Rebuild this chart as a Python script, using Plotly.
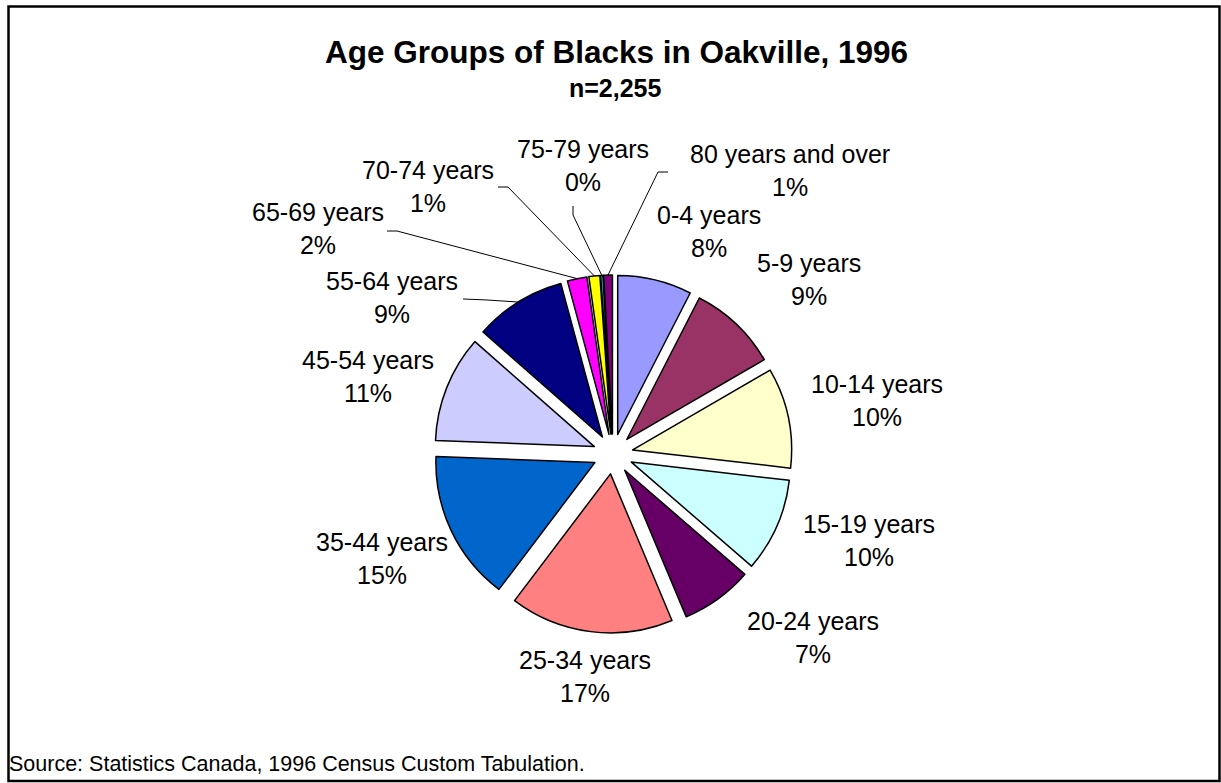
import math
import plotly.graph_objects as go

# ---------------- data ----------------
age_groups = ["0-4 years", "5-9 years", "10-14 years", "15-19 years", "20-24 years",
              "25-34 years", "35-44 years", "45-54 years", "55-64 years", "65-69 years",
              "70-74 years", "75-79 years", "80 years and over"]
counts = [170, 205, 230, 215, 165, 375, 345, 245, 210, 45, 25, 5, 20]
colors = ["#9999FF", "#993366", "#FFFFCC", "#CCFFFF", "#660066", "#FF8080", "#0066CC",
          "#CCCCFF", "#000080", "#FF00FF", "#FFFF00", "#00FFFF", "#800080"]
title_text = "Age Groups of Blacks in Oakville, 1996"
subtitle_text = "n=2,255"
source_text = "Source: Statistics Canada, 1996 Census Custom Tabulation."

# ---------------- layout constants (pixels) ----------------
W, H = 1221, 783
CX, CY = 613, 454          # pie centre
R = 159                    # pie radius
PULL = 0.126               # explosion (fraction of radius)
FONT = "Liberation Sans, Arial, sans-serif"

# label block centres, in pixels
label_pos = [(709, 231), (809, 279), (877, 400), (869, 540), (813, 637),
             (585, 676), (382, 558), (368, 377), (392, 297), (318, 229),
             (428, 186), (583, 166), (790, 170)]
# leader lines: label-side points (pixels); the slice end is computed from the data
leader_pts = {8: [(463, 299), (487, 300)],
              9: [(387, 231), (397, 231)],
              10: [(498, 187), (508, 187)],
              11: [(573, 206), (573, 215)],
              12: [(668, 172), (658, 172)]}


def px(x):
    return x / W


def py(y):
    return 1 - y / H


total = sum(counts)
pcts = [round(c / total * 100) for c in counts]

half = R * (1 + PULL)
fig = go.Figure(go.Pie(
    labels=age_groups, values=counts, sort=False, direction="clockwise", rotation=0,
    pull=[PULL] * len(counts),
    marker=dict(colors=colors, line=dict(color="black", width=1.5)),
    textinfo="none", hoverinfo="label+percent", showlegend=False,
    domain=dict(x=[px(CX - half), px(CX + half)], y=[py(CY + half), py(CY - half)]),
))

annotations = []
for i, (lab, p) in enumerate(zip(age_groups, pcts)):
    x, y = label_pos[i]
    annotations.append(dict(
        x=px(x), y=py(y), xref="paper", yref="paper", showarrow=False,
        text=f"{lab}<br>{p}%", align="center", xanchor="center", yanchor="middle",
        font=dict(family=FONT, size=25, color="black")))

annotations.append(dict(x=px(616), y=py(52), xref="paper", yref="paper", showarrow=False,
                        text=f"<b>{title_text}</b>", xanchor="center", yanchor="middle",
                        font=dict(family=FONT, size=31.5, color="black")))
annotations.append(dict(x=px(615), y=py(88), xref="paper", yref="paper", showarrow=False,
                        text=f"<b>{subtitle_text}</b>", xanchor="center", yanchor="middle",
                        font=dict(family=FONT, size=25, color="black")))
annotations.append(dict(x=px(7), y=py(764), xref="paper", yref="paper", showarrow=False,
                        text=source_text, xanchor="left", yanchor="middle",
                        font=dict(family=FONT, size=21.5, color="black")))

# cumulative angles -> leader end on slice outer arc
shapes = []
cum = 0
mids = []
for c in counts:
    a0 = cum / total * 360
    cum += c
    a1 = cum / total * 360
    mids.append((a0 + a1) / 2)
for i, pts in leader_pts.items():
    th = math.radians(mids[i])
    ex = CX + R * (1 + PULL) * math.sin(th)
    ey = CY - R * (1 + PULL) * math.cos(th)
    allp = pts + [(ex, ey)]
    path = "M " + " L ".join(f"{px(x):.5f},{py(y):.5f}" for x, y in allp)
    shapes.append(dict(type="path", path=path, xref="paper", yref="paper",
                       line=dict(color="black", width=1)))

# chart frame
shapes.append(dict(type="rect", xref="paper", yref="paper",
                   x0=px(8.5), y0=py(781), x1=px(1219.5), y1=py(6.5),
                   line=dict(color="black", width=2.5)))

fig.update_layout(width=W, height=H, margin=dict(l=0, r=0, t=0, b=0),
                  paper_bgcolor="white", plot_bgcolor="white",
                  annotations=annotations, shapes=shapes)
fig.write_html("out.html", config={"displayModeBar": False},
               post_script="document.body.style.margin='0';document.body.style.overflow='hidden';")
